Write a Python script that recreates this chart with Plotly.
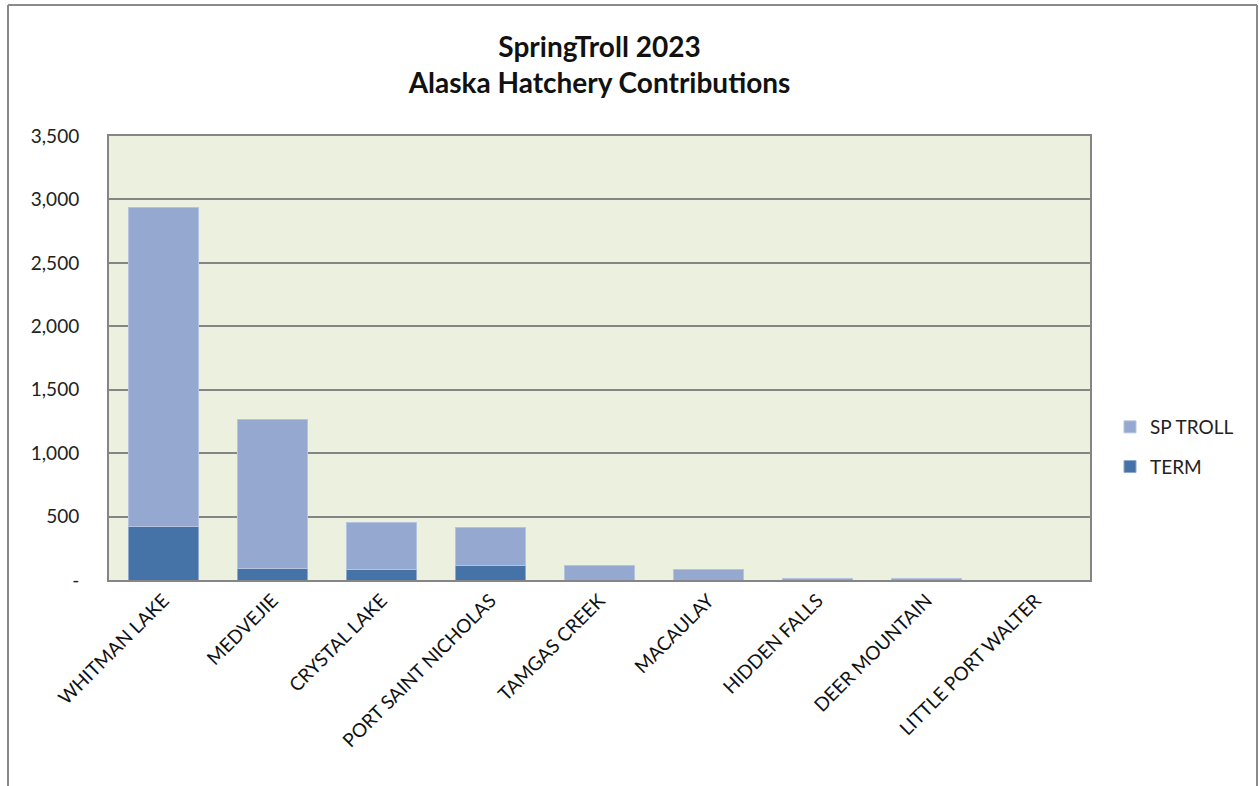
import plotly.graph_objects as go

categories = ["WHITMAN LAKE", "MEDVEJIE", "CRYSTAL LAKE", "PORT SAINT NICHOLAS",
              "TAMGAS CREEK", "MACAULAY", "HIDDEN FALLS", "DEER MOUNTAIN",
              "LITTLE PORT WALTER"]
term = [425, 90, 80, 116, 0, 0, 0, 0, 0]
sp_troll = [2510, 1172, 370, 296, 116, 86, 14, 13, 0]

ytick_vals = [0, 500, 1000, 1500, 2000, 2500, 3000, 3500]
ytick_text = ["-", "500", "1,000", "1,500", "2,000", "2,500", "3,000", "3,500"]

FONT = "Lato, 'Open Sans', sans-serif"

fig = go.Figure()
fig.add_trace(go.Bar(name="TERM", x=categories, y=term, legendgroup="t", legendrank=2,
                     marker=dict(color="#4573A7", line=dict(color="#8FA8CC", width=1))))
fig.add_trace(go.Bar(name="SP TROLL", x=categories, y=sp_troll, legendgroup="s", legendrank=1,
                     marker=dict(color="#95A9D0", line=dict(color="#B4C4E0", width=1))))

L, R, T, B = 109, 169, 136, 206
W, H = 1259, 786
pw, ph = W - L - R, H - T - B

def px_x(px):
    return (px - L) / pw

def px_y(py):
    return (H - B - py) / ph

fig.update_layout(
    width=W, height=H,
    barmode="stack",
    bargap=0.36,
    paper_bgcolor="white",
    plot_bgcolor="#EBF0DF",
    margin=dict(l=L, r=R, t=T, b=B),
    font=dict(family=FONT, color="#222222"),
    title=dict(text="<b>SpringTroll 2023<br>Alaska Hatchery Contributions</b>",
               x=0.5, xanchor="center", xref="paper", y=1 - 57 / H, yanchor="top",
               font=dict(size=28, color="#111111", family=FONT)),
    legend=dict(x=px_x(1110), y=px_y(408), xanchor="left", yanchor="top",
                traceorder="grouped", font=dict(size=19, color="#222222"),
                itemwidth=30, tracegroupgap=12, bgcolor="rgba(0,0,0,0)"),
    xaxis=dict(showline=True, linecolor="#858585", linewidth=2, mirror=True,
               tickangle=-45, tickfont=dict(size=19, color="#111111"),
               ticks="", showgrid=False),
    yaxis=dict(range=[0, 3500], tickvals=ytick_vals, ticktext=ytick_text,
               showline=True, linecolor="#858585", linewidth=2, mirror=True,
               gridcolor="#858585", gridwidth=2,
               tickfont=dict(size=19, color="#222222"),
               ticks="", ticklabelstandoff=24, zeroline=False),
    showlegend=True,
)

# outer chart frame
frame_color = "#8A8A8A"
for x0, y0, x1, y1 in [
    (px_x(8), px_y(5), px_x(1257), px_y(5)),
    (px_x(8), px_y(5), px_x(8), px_y(786)),
    (px_x(1257), px_y(5), px_x(1257), px_y(786)),
]:
    fig.add_shape(type="line", xref="paper", yref="paper",
                  x0=x0, y0=y0, x1=x1, y1=y1,
                  line=dict(color=frame_color, width=2))

fig.write_html("out.html")
